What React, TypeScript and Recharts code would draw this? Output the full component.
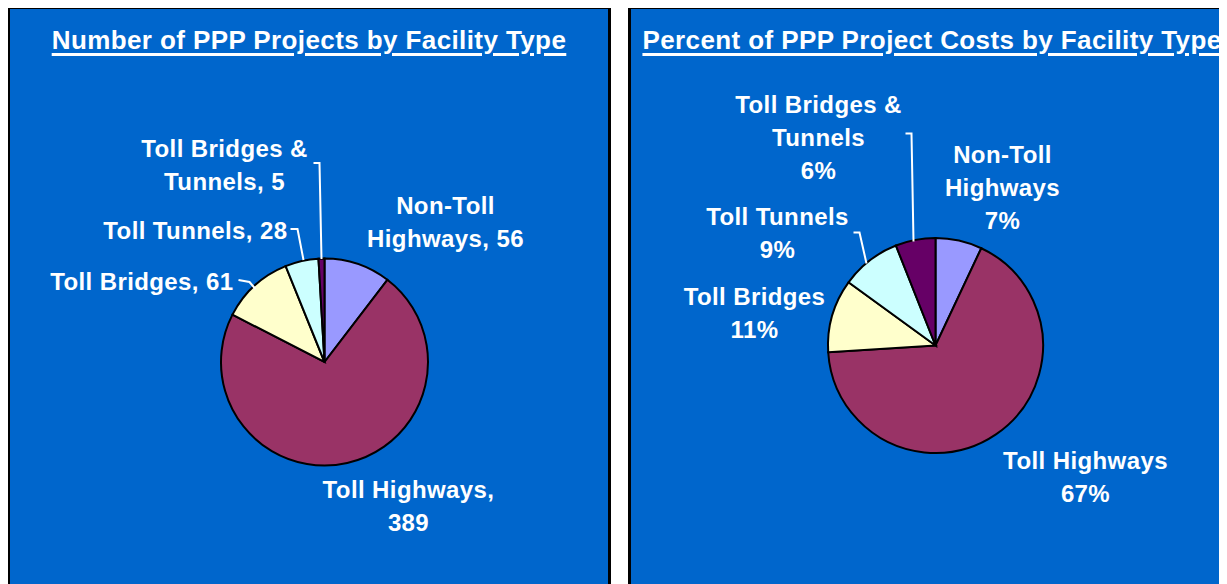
import { Cell, Pie, PieChart } from "recharts";

const FACILITY_TYPES = ["Non-Toll Highways", "Toll Highways", "Toll Bridges", "Toll Tunnels", "Toll Bridges & Tunnels"];
const PROJECT_COUNTS = [56, 389, 61, 28, 5];
const COST_PERCENTS = [7, 67, 11, 9, 6];

// how each facility name breaks over lines in the labels
const NAME_LINES = [["Non-Toll", "Highways"], ["Toll Highways"], ["Toll Bridges"], ["Toll Tunnels"], ["Toll Bridges &", "Tunnels"]];

const SLICE_COLORS = ["#9999FF", "#993366", "#FFFFCC", "#CCFFFF", "#660066"];
const PANEL_BLUE = "#0066CC";
const FONT = '"Liberation Sans", Arial, sans-serif';

const countData = FACILITY_TYPES.map((name, i) => ({ name, value: PROJECT_COUNTS[i] }));
const costData = FACILITY_TYPES.map((name, i) => ({ name, value: COST_PERCENTS[i] }));

// label placement, relative to the pie centre
const LEFT_LABEL_POS = [
  { dx: 121, dy: -157, anchor: "middle" },
  { dx: 84, dy: 127, anchor: "middle" },
  { dx: -91, dy: -81, anchor: "end" },
  { dx: -37, dy: -132, anchor: "end" },
  { dx: -100, dy: -214, anchor: "middle" },
];
const LEFT_LEADERS: Record<number, number[][]> = {
  2: [[-86, -82], [-75, -80], [-69, -73]],
  3: [[-34, -133], [-27, -133], [-21, -102]],
  4: [[-11, -199], [-5, -199], [-3, -103]],
};
const RIGHT_LABEL_POS = [
  { dx: 67, dy: -191, anchor: "middle" },
  { dx: 150, dy: 115, anchor: "middle" },
  { dx: -181, dy: -49, anchor: "middle" },
  { dx: -158, dy: -129, anchor: "middle" },
  { dx: -117, dy: -241, anchor: "middle" },
];
const RIGHT_LEADERS: Record<number, number[][]> = {
  3: [[-82, -113], [-76, -113], [-69, -82]],
  4: [[-30, -212], [-24, -212], [-22, -104]],
};

const LINE_GAP = 33;

function leftLines(i: number) {
  const lines = [...NAME_LINES[i]];
  if (i === 1) return [lines[0] + ",", String(PROJECT_COUNTS[i])];
  lines[lines.length - 1] += ", " + PROJECT_COUNTS[i];
  return lines;
}

function rightLines(i: number) {
  return [...NAME_LINES[i], COST_PERCENTS[i] + "%"];
}

function makeLabel(pos: typeof LEFT_LABEL_POS, leaders: Record<number, number[][]>, getLines: (i: number) => string[]) {
  return (props: any) => {
    const { cx, cy, index } = props;
    const p = pos[index];
    const lines = getLines(index);
    const lead = leaders[index];
    return (
      <g key={"lbl" + index}>
        {lead && (
          <polyline
            points={lead.map(([x, y]) => `${cx + x},${cy + y}`).join(" ")}
            fill="none"
            stroke="#fff"
            strokeWidth={2}
          />
        )}
        {lines.map((t, k) => (
          <text
            key={k}
            x={cx + p.dx}
            y={cy + p.dy + k * LINE_GAP}
            textAnchor={p.anchor as any}
            dominantBaseline="central"
            fill="#fff"
            fontFamily={FONT}
            fontWeight="bold"
            fontSize={24}
            letterSpacing={0.4}
          >
            {t}
          </text>
        ))}
      </g>
    );
  };
}

const panelStyle = (left: number): React.CSSProperties => ({
  position: "absolute",
  left,
  top: 6,
  width: 604,
  height: 620,
  boxSizing: "border-box",
  border: "3px solid #000",
  background: PANEL_BLUE,
});

const titleStyle = (left: number): React.CSSProperties => ({
  position: "absolute",
  left,
  top: 24,
  width: 604,
  textAlign: "center",
  color: "#fff",
  fontFamily: FONT,
  fontWeight: "bold",
  fontSize: 26,
  letterSpacing: 0.4,
  lineHeight: "32px",
  textDecoration: "underline",
  textDecorationThickness: 3,
  textUnderlineOffset: 4,
  whiteSpace: "nowrap",
});

export default function App() {
  return (
    <div style={{ position: "relative", width: 1227, height: 584, margin: "-8px 0 0 -8px", overflow: "hidden", background: "#fff" }}>
      <div style={panelStyle(7)} />
      <div style={panelStyle(628)} />
      <div style={titleStyle(7)}>Number of PPP Projects by Facility Type</div>
      <div style={titleStyle(630)}>Percent of PPP Project Costs by Facility Type</div>
      <div style={{ position: "absolute", left: 0, top: 0 }}>
        <PieChart width={1227} height={584} margin={{ top: 0, right: 0, bottom: 0, left: 0 }}>
          <Pie
            data={countData}
            dataKey="value"
            nameKey="name"
            cx={324.5}
            cy={362}
            outerRadius={103.5}
            startAngle={90}
            endAngle={-270}
            stroke="#000"
            strokeWidth={2}
            label={makeLabel(LEFT_LABEL_POS, LEFT_LEADERS, leftLines)}
            labelLine={false}
            isAnimationActive={false}
          >
            {countData.map((d, i) => (
              <Cell key={d.name} fill={SLICE_COLORS[i]} />
            ))}
          </Pie>
          <Pie
            data={costData}
            dataKey="value"
            nameKey="name"
            cx={935.5}
            cy={345.5}
            outerRadius={107.5}
            startAngle={90}
            endAngle={-270}
            stroke="#000"
            strokeWidth={2}
            label={makeLabel(RIGHT_LABEL_POS, RIGHT_LEADERS, rightLines)}
            labelLine={false}
            isAnimationActive={false}
          >
            {costData.map((d, i) => (
              <Cell key={d.name} fill={SLICE_COLORS[i]} />
            ))}
          </Pie>
        </PieChart>
      </div>
    </div>
  );
}
